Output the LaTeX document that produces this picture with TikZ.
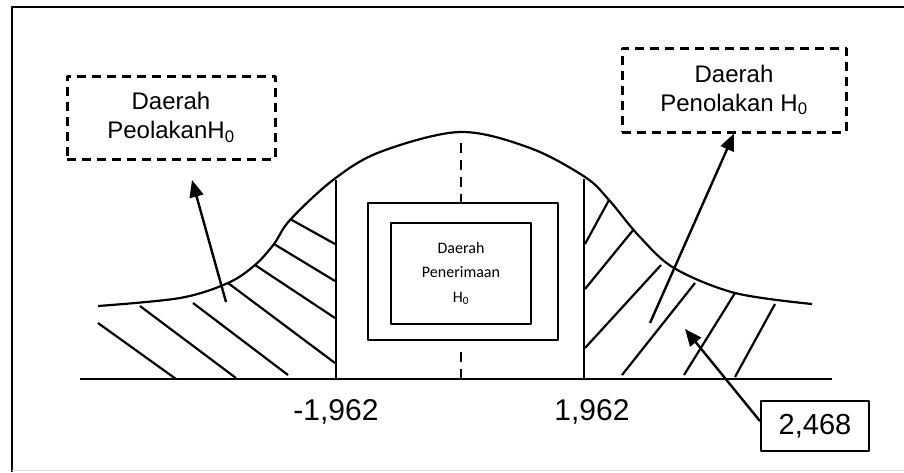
\documentclass[tikz,border=0pt]{standalone}
\usepackage{fontspec}
\setmainfont{Liberation Sans}
\newfontfamily\calib{Carlito}
\usetikzlibrary{arrows.meta}
\begin{document}
\begin{tikzpicture}[x=1pt,y=-1pt,line join=round,
  dbox/.style={draw,line width=3pt,dash pattern=on 9pt off 6pt,inner sep=0pt,align=center,font=\fontsize{24}{29}\selectfont},
  sbox/.style={draw,line width=2.2pt,inner sep=0pt},
  curvestyle/.style={line width=2.2pt},
  hatch/.style={line width=2.2pt},
  dline/.style={line width=2.8pt,dash pattern=on 10pt off 7pt},
  arr/.style={line width=2.4pt,-{Triangle[length=17pt,width=14pt]}},
  numlabel/.style={anchor=base,inner sep=0pt,font=\fontsize{30}{30}\selectfont}]
\useasboundingbox (0,0) rectangle (904,472);
% frame
\draw[line width=2.5pt] (12,472) -- (12,7) -- (904,7);
\draw[black!12,line width=1.5pt] (12,470.5) -- (904,470.5);
% boxes
\node[dbox,minimum width=208pt,minimum height=83pt] (lbox) at (171,117.5) {Daerah\\PeolakanH\textsubscript{0}};
\node[dbox,minimum width=224pt,minimum height=84pt] (rbox) at (734,90) {Daerah\\Penolakan H\textsubscript{0}};
\node[sbox,minimum width=190pt,minimum height=137pt] (outer) at (463,271.5) {};
\node[sbox,minimum width=140pt,minimum height=101pt,align=center,font=\calib\fontsize{16}{24.5}\selectfont] (inner) at (461,273.5) {Daerah\\Penerimaan\\H\textsubscript{0}};
\node[sbox,minimum width=108pt,minimum height=50pt,font=\fontsize{29}{29}\selectfont] (val) at (815,426) {2,468};
% labels
\node[numlabel] (lneg) at (336,420) {-1,962};
\node[numlabel] (lpos) at (592,420) {1,962};
% axis and verticals
\coordinate (ax1) at (80,379);
\coordinate (ax2) at (832,379);
\draw[line width=2.2pt] (ax1) -- (ax2);
\coordinate (lv1) at (336,180);
\coordinate (lv2) at (336,379);
\coordinate (rv1) at (584,179);
\coordinate (rv2) at (584,379);
\draw[line width=2.2pt] (lv1) -- (lv2);
\draw[line width=2.2pt] (rv1) -- (rv2);
% centre dashed line
\coordinate (ctop) at (461,143);
\coordinate (cbot) at (461,379);
\draw[dline] (ctop) -- (ctop |- outer.north);
\draw[dline] (cbot) -- ([yshift=-9pt]cbot |- outer.south);
% curve
\draw[curvestyle] plot[smooth,tension=0.55] coordinates {(98,306) (180,298) (228,283) (255,265) (274,244) (290,220) (333,180) (380,152) (460,132) (530,148) (585,177) (609,200) (639,236) (674,268) (735,293) (812,304)};
% left hatching
\draw[hatch] (98,323) -- (176,379);
\draw[hatch] (140,306) -- (236,378);
\draw[hatch] (193,303) -- (288,375);
\draw[hatch] (228,283) -- (335,363);
\draw[hatch] (255,265) -- (335,318);
\draw[hatch] (274,244) -- (335,281);
\draw[hatch] (290,219) -- (335,244);
% right hatching
\draw[hatch] (609,200) -- (585,244);
\draw[hatch] (634,229) -- (585,289);
\draw[hatch] (661,265) -- (585,348);
\draw[hatch] (695,283) -- (622,375);
\draw[hatch] (735,293) -- (684,375);
\draw[hatch] (775,304) -- (735,377);
% arrows
\coordinate (la0) at (226,302);
\coordinate (la1) at (192,180);
\draw[arr] (la0) -- (la1);
\coordinate (ra0) at (650,323);
\draw[arr] (ra0) -- (rbox.south);
\coordinate (va1) at (685,329);
\draw[arr] ([yshift=5pt]val.west) -- (va1);
\end{tikzpicture}
\end{document}
